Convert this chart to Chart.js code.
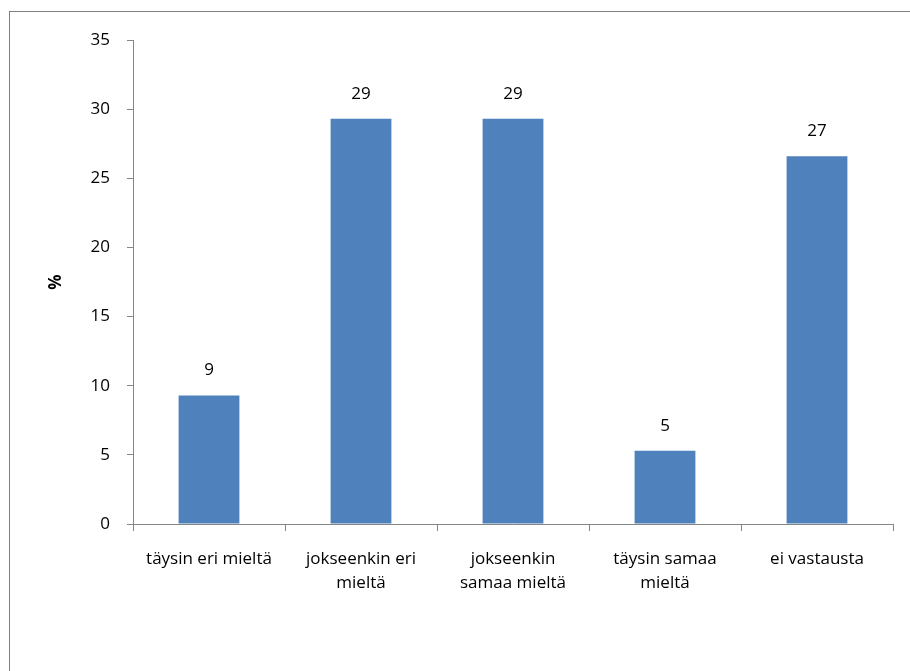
<!DOCTYPE html>
<html>
<head>
<meta charset="utf-8">
<script src="https://cdn.jsdelivr.net/npm/chart.js@4"></script>
<style>
  html, body { margin: 0; padding: 0; background: #fff; }
  #wrap { position: relative; width: 910px; height: 671px; overflow: hidden; }
  #frame { position: absolute; left: 9px; top: 11px; width: 1000px; height: 800px;
           border-left: 1px solid #808080; border-top: 1px solid #808080; }
  canvas { position: absolute; left: 0; top: 0; }
</style>
</head>
<body>
<div id="wrap">
  <div id="frame"></div>
  <canvas id="Chart" width="910" height="671"></canvas>
</div>
<script>
// categories and values (percent)
const categories = [
  "täysin eri mieltä",
  ["jokseenkin eri", "mieltä"],
  ["jokseenkin", "samaa mieltä"],
  ["täysin samaa", "mieltä"],
  "ei vastausta"
];
const values = [9.3, 29.3, 29.3, 5.3, 26.6];
const valueLabels = ["9", "29", "29", "5", "27"];
const yTicks = [0, 5, 10, 15, 20, 25, 30, 35];

const FONT = "'Open Sans', 'Liberation Sans', sans-serif";
const axisGray = "#868686";

// labels above the bars
const barLabels = {
  id: "barLabels",
  afterDatasetsDraw(chart) {
    const ctx = chart.ctx;
    const meta = chart.getDatasetMeta(0);
    ctx.save();
    ctx.font = "17px " + FONT;
    ctx.fillStyle = "#000";
    ctx.textAlign = "center";
    ctx.textBaseline = "middle";
    meta.data.forEach((bar, i) => {
      ctx.fillText(valueLabels[i], bar.x, bar.y - 25);
    });
    ctx.restore();
  }
};

const chart = new Chart(document.getElementById("Chart"), {
  type: "bar",
  data: {
    labels: categories,
    datasets: [{
      data: values,
      backgroundColor: "#4F81BD",
      borderWidth: 0,
      barPercentage: 0.8,
      categoryPercentage: 0.5
    }]
  },
  options: {
    responsive: false,
    animation: false,
    layout: { padding: { top: 40, right: 17, left: 0, bottom: 0 } },
    plugins: { legend: { display: false }, tooltip: { enabled: false } },
    scales: {
      x: {
        offset: true,
        grid: { offset: true, drawOnChartArea: false, tickLength: 7, color: axisGray },
        border: { color: axisGray },
        ticks: { color: "#000", font: { family: FONT, size: 17, lineHeight: 1.4 }, padding: 16, maxRotation: 0 },
        afterFit(scale) { scale.height = 147; }
      },
      y: {
        min: 0,
        max: 35,
        afterBuildTicks(scale) { scale.ticks = yTicks.map(v => ({ value: v })); },
        grid: { drawOnChartArea: false, tickLength: 6, color: axisGray },
        border: { color: axisGray },
        ticks: { color: "#000", font: { family: FONT, size: 17 }, padding: 17 },
        title: {
          display: true,
          text: "%",
          color: "#000",
          font: { family: FONT, size: 17, weight: "bold" },
          padding: { top: 46, bottom: 0 }
        },
        afterFit(scale) { scale.width = 133; }
      }
    }
  },
  plugins: [barLabels]
});
</script>
</body>
</html>
